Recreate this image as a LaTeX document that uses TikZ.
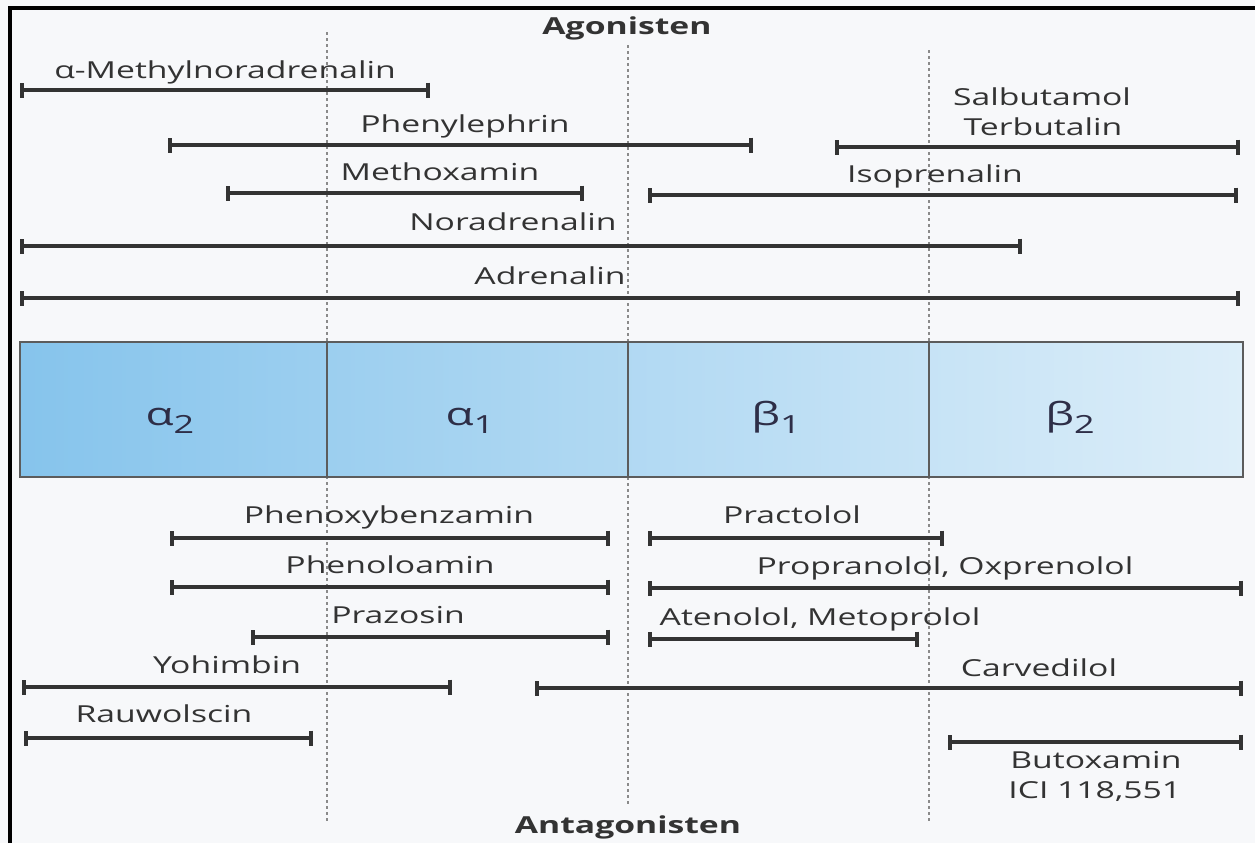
\documentclass[tikz,border=0pt]{standalone}
\usepackage{fontspec}
\setmainfont{Open Sans}[FakeStretch=1.44]
\usetikzlibrary{arrows.meta}

\definecolor{ink}{HTML}{333333}
\definecolor{pagebg}{HTML}{F7F8FA}
\definecolor{boxleft}{HTML}{86C4EC}
\definecolor{boxright}{HTML}{DDEEF9}
\definecolor{dotgray}{HTML}{8A8A8A}

\newcommand{\rsub}[1]{\raisebox{-0.28em}{\fontsize{12.5}{14}\selectfont #1}}

\tikzset{
  rangebar/.style={draw=ink, line width=1.9pt, {Bar[width=7.5pt]}-{Bar[width=7.5pt]}},
  lbl/.style={anchor=base, text=ink, inner sep=0pt, font=\fontsize{11.7}{14}\selectfont},
  grp/.style={lbl, font=\fontsize{11.7}{14}\selectfont\bfseries},
  rec/.style={anchor=base, text=ink!90!blue, inner sep=0pt, font=\fontsize{15.9}{18}\selectfont},
  divider/.style={draw=dotgray, line width=0.6pt, dash pattern=on 1.5pt off 1.5pt},
  boxline/.style={draw=ink!80, line width=0.7pt}
}

\begin{document}
\begin{tikzpicture}[x=0.5pt,y=-0.5pt]
  \useasboundingbox[fill=pagebg] (0,0) rectangle (1255,843);
  % edge of the scan
  \draw[line width=1.6pt] (10,843) -- (10,8) -- (1255,8);

  % dotted receptor borders
  \draw[divider] (327,32) -- (327,822);
  \draw[divider] (628,45) -- (628,805);
  \draw[divider] (929,50) -- (929,823);

  % receptor box
  \shade[left color=boxleft, right color=boxright] (20,342) rectangle (1243,477);
  \draw[boxline] (20,342) rectangle (1243,477);
  \foreach \x in {327,628,929}
    \draw[boxline] (\x,342) -- (\x,477);
  \node[rec] (a2) at (170,425) {α\rsub{2}};
  \node[rec] (a1) at (470,425) {α\rsub{1}};
  \node[rec] (b1) at (776,425) {β\rsub{1}};
  \node[rec] (b2) at (1070,425) {β\rsub{2}};

  % agonists
  \node[grp] (ago) at (627,34) {Agonisten};
  \node[lbl] (mna) at (225,78) {α-Methylnoradrenalin};
  \draw[rangebar] (20,90) -- (430,90);
  \node[lbl] (phe) at (465,132) {Phenylephrin};
  \draw[rangebar] (168,145) -- (753,145);
  \node[lbl] (sal) at (1042,105) {Salbutamol};
  \node[lbl] (ter) at (1043,135) {Terbutalin};
  \draw[rangebar] (835,147) -- (1240,147);
  \node[lbl] (met) at (440,180) {Methoxamin};
  \draw[rangebar] (226,193) -- (584,193);
  \node[lbl] (iso) at (935,182) {Isoprenalin};
  \draw[rangebar] (648,195) -- (1238,195);
  \node[lbl] (nor) at (513,230) {Noradrenalin};
  \draw[rangebar] (20,246) -- (1022,246);
  \node[lbl] (adr) at (550,284) {Adrenalin};
  \draw[rangebar] (20,298) -- (1240,298);

  % antagonists
  \node[lbl] (pbz) at (389,523) {Phenoxybenzamin};
  \draw[rangebar] (170,538) -- (610,538);
  \node[lbl] (pra) at (792,523) {Practolol};
  \draw[rangebar] (648,538) -- (944,538);
  \node[lbl] (pha) at (390,573) {Phenoloamin};
  \draw[rangebar] (170,587) -- (610,587);
  \node[lbl] (pro) at (945,574) {Propranolol, Oxprenolol};
  \draw[rangebar] (648,588) -- (1243,588);
  \node[lbl] (prz) at (398,623) {Prazosin};
  \draw[rangebar] (251,637) -- (610,637);
  \node[lbl] (ate) at (820,625) {Atenolol, Metoprolol};
  \draw[rangebar] (648,639) -- (919,639);
  \node[lbl] (yoh) at (227,673) {Yohimbin};
  \draw[rangebar] (22,687) -- (452,687);
  \node[lbl] (car) at (1039,676) {Carvedilol};
  \draw[rangebar] (535,688) -- (1243,688);
  \node[lbl] (rau) at (164,722) {Rauwolscin};
  \draw[rangebar] (24,738) -- (313,738);
  \draw[rangebar] (948,742) -- (1243,742);
  \node[lbl, anchor=base west] (but) at (1010,768) {Butoxamin};
  \node[lbl, anchor=base west] (ici) at (1008,798) {ICI 118,551};
  \node[grp] (ant) at (628,833) {Antagonisten};
\end{tikzpicture}
\end{document}
